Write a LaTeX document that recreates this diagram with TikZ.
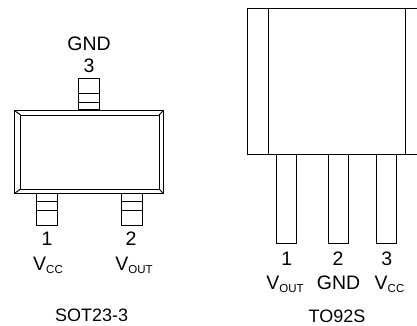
\documentclass[tikz,border=0pt]{standalone}
\usepackage{fontspec}
\setmainfont{Liberation Sans}
\newcommand{\lbl}{\fontsize{18}{20}\selectfont}
\newcommand{\pinl}{\fontsize{19.5}{21}\selectfont}
\newcommand{\subl}[1]{\raisebox{-3.4pt}{\fontsize{11.5}{12}\selectfont #1}}
\tikzset{
  part/.style={draw=black,line width=1pt,fill=white},
  edge/.style={draw=black,line width=1pt},
  lab/.style={anchor=base,inner sep=0pt,font=\lbl},
  pin/.style={anchor=base,inner sep=0pt,font=\pinl}
}
\begin{document}
\begin{tikzpicture}[x=1pt,y=-1pt]
\useasboundingbox (0,0) rectangle (417,326);
% SOT23-3
\draw[part] (78.5,79) rectangle (99.5,110);
\draw[edge] (78.5,93.5) -- (99.5,93.5) (78.5,102.5) -- (99.5,102.5);
\draw[part] (36.5,193.5) rectangle (57.5,225);
\draw[edge] (36.5,201) -- (57.5,201) (36.5,210) -- (57.5,210);
\draw[part] (121.5,193.5) rectangle (142.5,225);
\draw[edge] (121.5,201) -- (142.5,201) (121.5,210) -- (142.5,210);
\draw[part] (14.5,110.5) rectangle (163.5,193.5);
\draw[edge] (20.5,115) rectangle (159,189);
\draw[edge] (14.5,110.5) -- (20.5,115) (163.5,110.5) -- (159,115)
  (14.5,193.5) -- (20.5,189) (163.5,193.5) -- (159,189);
\node[pin] (gnda) at (89,51) {GND};
\node[pin] (three) at (89,72.7) {3};
\node[pin] (one) at (47,245.7) {1};
\node[pin] (two) at (131,245.7) {2};
\node[pin] (vcca) at (48,270) {V\subl{CC}};
\node[pin] (vouta) at (134,270) {V\subl{OUT}};
\node[lab] (sot) at (91.6,321.7) {SOT23-3};
% TO92S
\draw[part] (276.5,154) rectangle (296.5,243.7);
\draw[part] (328,154) rectangle (348,243.7);
\draw[part] (376,154) rectangle (396,243.7);
\draw[edge] (418,8.5) -- (247.5,8.5) -- (247.5,154.5) -- (418,154.5);
\draw[edge] (268.5,8.5) -- (268.5,154.5) (405.3,8.5) -- (405.3,154.5);
\node[pin] (p1) at (286.7,265.7) {1};
\node[pin] (p2) at (338,265.7) {2};
\node[pin] (p3) at (386.7,265.7) {3};
\node[pin] (vout) at (285,289) {V\subl{OUT}};
\node[pin] (gndb) at (338.5,289) {GND};
\node[pin] (vcc) at (389.5,289) {V\subl{CC}};
\node[lab] (to) at (337,322) {TO92S};
\end{tikzpicture}
\end{document}
